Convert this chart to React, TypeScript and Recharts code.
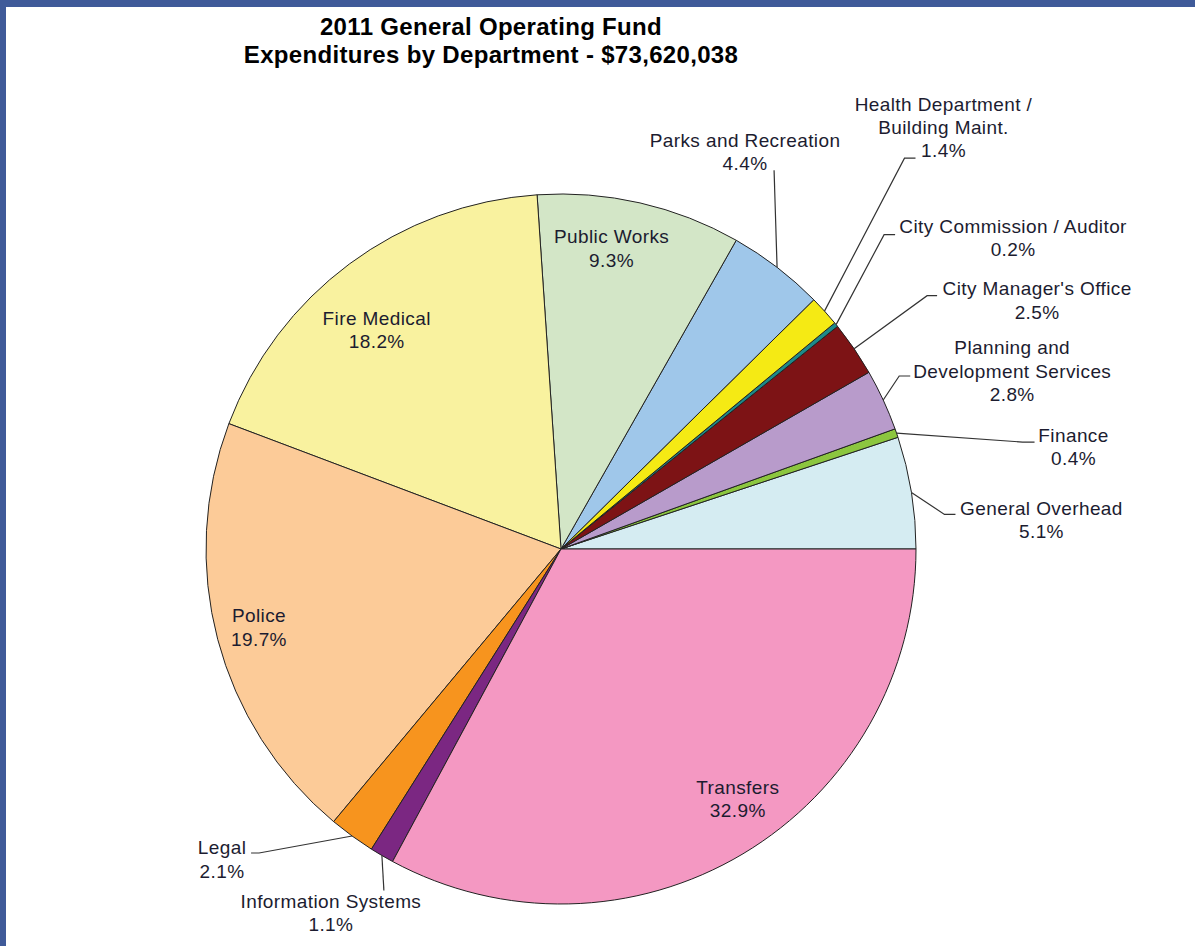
import React from 'react';
import { PieChart, Pie, Cell } from 'recharts';

const departments = [
  'General Overhead',
  'Finance',
  'Planning and Development Services',
  "City Manager's Office",
  'City Commission / Auditor',
  'Health Department / Building Maint.',
  'Parks and Recreation',
  'Public Works',
  'Fire Medical',
  'Police',
  'Legal',
  'Information Systems',
  'Transfers',
];

const shares = [5.1, 0.4, 2.8, 2.5, 0.2, 1.4, 4.4, 9.3, 18.2, 19.7, 2.1, 1.1, 32.9];

const labelLines = [
  ['General Overhead'],
  ['Finance'],
  ['Planning and', 'Development Services'],
  ["City Manager's Office"],
  ['City Commission / Auditor'],
  ['Health Department /', 'Building Maint.'],
  ['Parks and Recreation'],
  ['Public Works'],
  ['Fire Medical'],
  ['Police'],
  ['Legal'],
  ['Information Systems'],
  ['Transfers'],
];

const colors = [
  '#D5ECF2', '#8CC63F', '#B89BCB', '#7D1315', '#1D8A8A', '#F5EA14', '#9FC7EA',
  '#D3E6C7', '#F9F29F', '#FCCB98', '#F7941E', '#7B2782', '#F498C2',
];

const titleLines = ['2011 General Operating Fund', 'Expenditures by Department - $73,620,038'];

// label layout (styling, not data)
type InLayout = { kind: 'in'; r: number; da: number };
type OutLayout = { kind: 'out'; ex: number; ey: number; hx: number; tx: number; ty: number };
const labelLayout: (InLayout | OutLayout)[] = [
  { kind: 'out', ex: 33, ey: 22, hx: 11, tx: 86, ty: -6 },
  { kind: 'out', ex: 126, ey: 9, hx: 12, tx: 39, ty: -7 },
  { kind: 'out', ex: 16, ey: -24, hx: 11, tx: 102, ty: -28 },
  { kind: 'out', ex: 73, ey: -53, hx: 10, tx: 100, ty: -7 },
  { kind: 'out', ex: 48, ey: -90, hx: 11, tx: 118, ty: -8 },
  { kind: 'out', ex: 80, ey: -153, hx: 11, tx: 28, ty: -54 },
  { kind: 'out', ex: -3, ey: -97, hx: 0, tx: -29, ty: -30 },
  { kind: 'in', r: 0.858, da: 3.3 },
  { kind: 'in', r: 0.806, da: 3.5 },
  { kind: 'in', r: 0.879, da: -0.2 },
  { kind: 'out', ex: -93, ey: 17, hx: -8, tx: -29, ty: -5 },
  { kind: 'out', ex: 2, ey: 35, hx: 0, tx: -53, ty: 11 },
  { kind: 'in', r: 0.863, da: 4.4 },
];

const data = departments.map((name, i) => ({ name, value: shares[i] }));

const RAD = Math.PI / 180;
const LINE_H = 23.4;
const FONT = "'Liberation Sans', Arial, sans-serif";
const TEXT_COLOR = '#1c1c30';

const renderLabel = (props: any) => {
  const { cx, cy, midAngle, outerRadius, index } = props;
  const layout = labelLayout[index];
  const lines = [...labelLines[index], `${shares[index].toFixed(1)}%`];
  const textEls = (x: number, y0: number) =>
    lines.map((ln, k) => (
      <text
        key={k}
        x={x}
        y={y0 + k * LINE_H}
        dy="0.34em"
        textAnchor="middle"
        fill={TEXT_COLOR}
        fontFamily={FONT}
        fontSize={19}
        letterSpacing={0.4}
      >
        {ln}
      </text>
    ));
  if (layout.kind === 'in') {
    const a = (midAngle + layout.da) * RAD;
    const x = cx + outerRadius * layout.r * Math.cos(a);
    const y = cy - outerRadius * layout.r * Math.sin(a);
    const y0 = y - ((lines.length - 1) * LINE_H) / 2;
    return <g key={`lbl-${index}`}>{textEls(x, y0)}</g>;
  }
  const a = midAngle * RAD;
  const ax = cx + outerRadius * Math.cos(a);
  const ay = cy - outerRadius * Math.sin(a);
  const ex = ax + layout.ex;
  const ey = ay + layout.ey;
  const hx = ex + layout.hx;
  return (
    <g key={`lbl-${index}`}>
      <polyline
        points={`${ax},${ay} ${ex},${ey} ${hx},${ey}`}
        fill="none"
        stroke="#333"
        strokeWidth={1.2}
      />
      {textEls(hx + layout.tx, ey + layout.ty)}
    </g>
  );
};

export default function App() {
  return (
    <div style={{ position: 'absolute', left: 0, top: 0, width: 1195, height: 946, background: '#fff', overflow: 'hidden' }}>
      <PieChart width={1195} height={946} margin={{ top: 0, right: 0, bottom: 0, left: 0 }}>
        <Pie
          data={data}
          dataKey="value"
          nameKey="name"
          cx={561}
          cy={549}
          outerRadius={355}
          startAngle={0}
          endAngle={360}
          stroke="#222"
          strokeWidth={1}
          label={renderLabel}
          labelLine={false}
          isAnimationActive={false}
        >
          {data.map((d, i) => (
            <Cell key={d.name} fill={colors[i]} />
          ))}
        </Pie>
      </PieChart>
      <div
        style={{
          position: 'absolute',
          left: 0,
          top: 13,
          width: 982,
          textAlign: 'center',
          fontFamily: FONT,
          fontWeight: 'bold',
          fontSize: 24,
          lineHeight: '28px',
          letterSpacing: 0.32,
          color: '#000',
        }}
      >
        {titleLines.map((t) => (
          <div key={t}>{t}</div>
        ))}
      </div>
      <div style={{ position: 'absolute', left: 0, top: 0, width: 1195, height: 7, background: '#3F5A99' }} />
      <div style={{ position: 'absolute', left: 0, top: 0, width: 6, height: 946, background: '#3F5A99' }} />
    </div>
  );
}
